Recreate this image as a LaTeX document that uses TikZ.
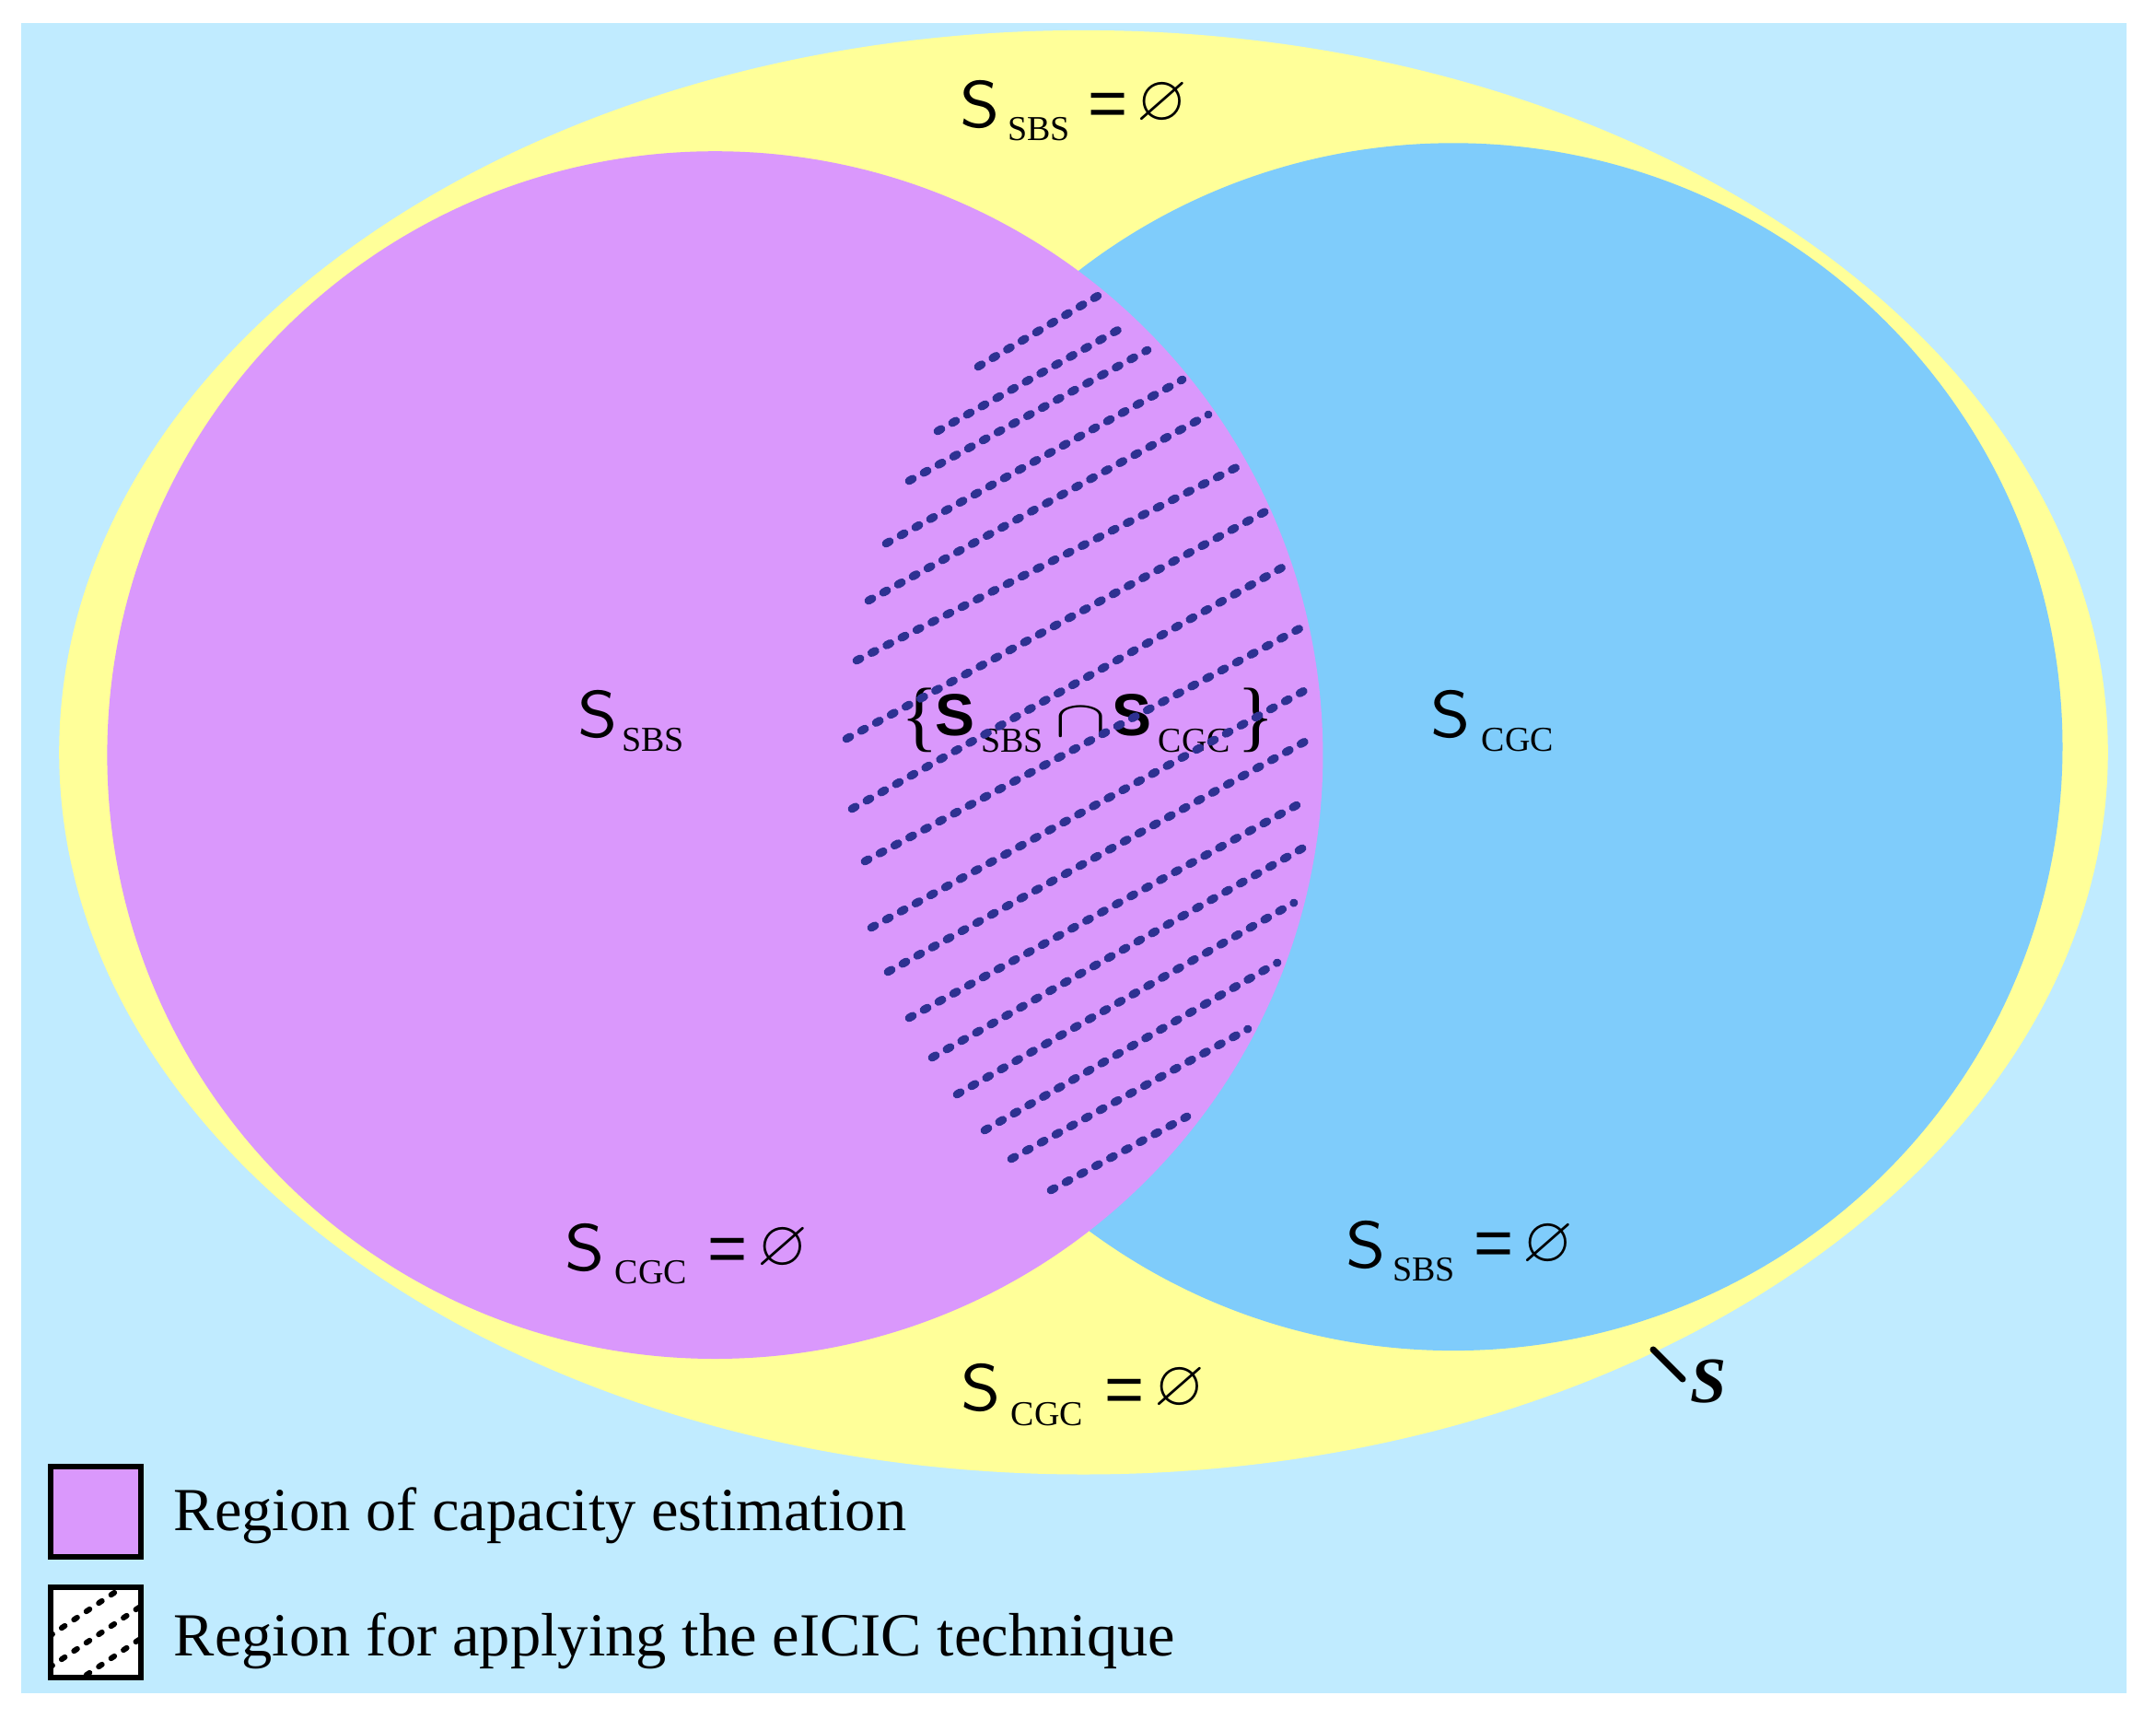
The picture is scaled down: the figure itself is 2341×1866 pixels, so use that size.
\documentclass[tikz,border=0pt]{standalone}
\usepackage{graphicx}
\usepackage{amssymb}
\usepackage{fontspec}
\setmainfont{Liberation Serif}
\newfontfamily\arialf{Liberation Sans}
\definecolor{bgc}{RGB}{192,235,255}
\definecolor{yel}{RGB}{255,255,153}
\definecolor{purp}{RGB}{218,152,252}
\definecolor{cblue}{RGB}{127,204,251}
\definecolor{hatchc}{RGB}{46,49,146}
\tikzset{
  bigS/.style={inner sep=0pt, anchor=base, font=\fontsize{20.5}{20.5}\sffamily},
  boldS/.style={inner sep=0pt, anchor=base, font=\fontsize{18.3}{18.3}\arialf\bfseries},
  subS/.style={inner sep=0pt, anchor=base, font=\fontsize{10.8}{10.8}\selectfont},
  eqS/.style={inner sep=0pt, anchor=center, font=\fontsize{21}{21}\arialf},
  nullS/.style={inner sep=0pt, anchor=center},
  braceS/.style={inner sep=0pt, anchor=center, font=\fontsize{24}{24}\selectfont},
  legtext/.style={inner sep=0pt, anchor=base west, font=\fontsize{18.9}{18.9}\selectfont},
  legbox/.style={draw=black, line width=1.7pt},
  hatchline/.style={draw=hatchc, line width=2.5pt, line cap=round, dash pattern=on 1.3pt off 3.9pt},
  leghatch/.style={draw=black, line width=1.7pt, line cap=round, dash pattern=on 1.2pt off 3.4pt},
  leader/.style={draw=black, line width=2pt, line cap=round}
}
\newcommand\emptysym{\scalebox{2}{$\varnothing$}}
\newcommand\wideS{\scalebox{1.15}[1]{S}}
\begin{document}
\begin{tikzpicture}[x=0.01cm,y=-0.01cm]
\useasboundingbox (0,0) rectangle (2341,1866);
\fill[bgc] (23,25) rectangle (2309,1838);
\fill[yel] (1176.5,816.7) ellipse [x radius=1112.3, y radius=783.8];
\fill[cblue] (1578,810.7) ellipse [x radius=661.5, y radius=655.4];
\fill[purp] (776.4,819.6) ellipse [x radius=660, y radius=655.4];

% top label
\node[bigS] (tS) at (1064,138) {\wideS};
\node[subS] (tSub) at (1128,152) {SBS};
\node[eqS] (tEq) at (1203,119) {=};
\node[nullS] (tNull) at (1262,113) {\emptysym};
% left label
\node[bigS] (lS) at (649,800) {\wideS};
\node[subS] (lSub) at (709,815) {SBS};
% right label
\node[bigS] (rS) at (1575,800) {\wideS};
\node[subS] (rSub) at (1648,815) {CGC};
% left bottom label
\node[bigS] (lbS) at (635,1379) {\wideS};
\node[subS] (lbSub) at (707,1393) {CGC};
\node[eqS] (lbEq) at (790,1362) {=};
\node[nullS] (lbNull) at (850,1356) {\emptysym};
% right bottom label
\node[bigS] (rbS) at (1483,1376) {\wideS};
\node[subS] (rbSub) at (1546,1390) {SBS};
\node[eqS] (rbEq) at (1622,1356) {=};
\node[nullS] (rbNull) at (1681,1352) {\emptysym};
% bottom yellow label
\node[bigS] (bS) at (1065,1531) {\wideS};
\node[subS] (bSub) at (1137,1547) {CGC};
\node[eqS] (bEq) at (1221,1515) {=};
\node[nullS] (bNull) at (1281,1508) {\emptysym};
% centre label
\node[braceS] (cL) at (999,782) {\{};
\node[boldS] (cS1) at (1037,798) {S};
\node[subS] (cSub1) at (1099,816) {SBS};
\node[nullS] (cCap) at (1174,784) {\scalebox{2.4}[1.6]{$\cap$}};
\node[boldS] (cS2) at (1229,798) {S};
\node[subS] (cSub2) at (1297,816) {CGC};
\node[braceS] (cR) at (1364,782) {\}};

% hatching
\foreach \xa/\ya/\xb/\yb in {1062/398/1194/320, 1018/468/1225/352, 987/522/1246/380,
  962/590/1284/412, 943/652/1312/450, 930/717/1353/502, 919/802/1380/552,
  925/878/1403/610, 939/935/1421/677, 946/1007/1425/745, 964/1055/1426/800,
  987/1105/1419/868, 1012/1148/1421/917, 1039/1188/1405/980, 1069/1227/1387/1045,
  1098/1258/1355/1117, 1141/1292/1289/1212}
  \draw[hatchline] (\xa,\ya) -- (\xb,\yb);

% S label
\node[inner sep=0pt, anchor=base, font=\fontsize{20}{20}\bfseries\itshape] (sLab) at (1855,1522) {S};
\coordinate (ldA) at (1795,1465);
\coordinate (ldB) at (1827,1497);
\draw[leader] (ldA) -- (ldB);

% legend
\filldraw[legbox, fill=purp] (55,1592) rectangle (153,1690);
\node[legtext] (leg1) at (188,1661) {Region of capacity estimation};
\begin{scope}
  \clip (55,1723) rectangle (153,1821);
  \fill[white] (55,1723) rectangle (153,1821);
  \foreach \c in {1812,1846,1881} {
    \draw[leghatch] (40,{\c-0.67*40}) -- (170,{\c-0.67*170});
  }
\end{scope}
\draw[legbox] (55,1723) rectangle (153,1821);
\node[legtext] (leg2) at (188,1797) {Region for applying the eICIC technique};
\end{tikzpicture}
\end{document}
